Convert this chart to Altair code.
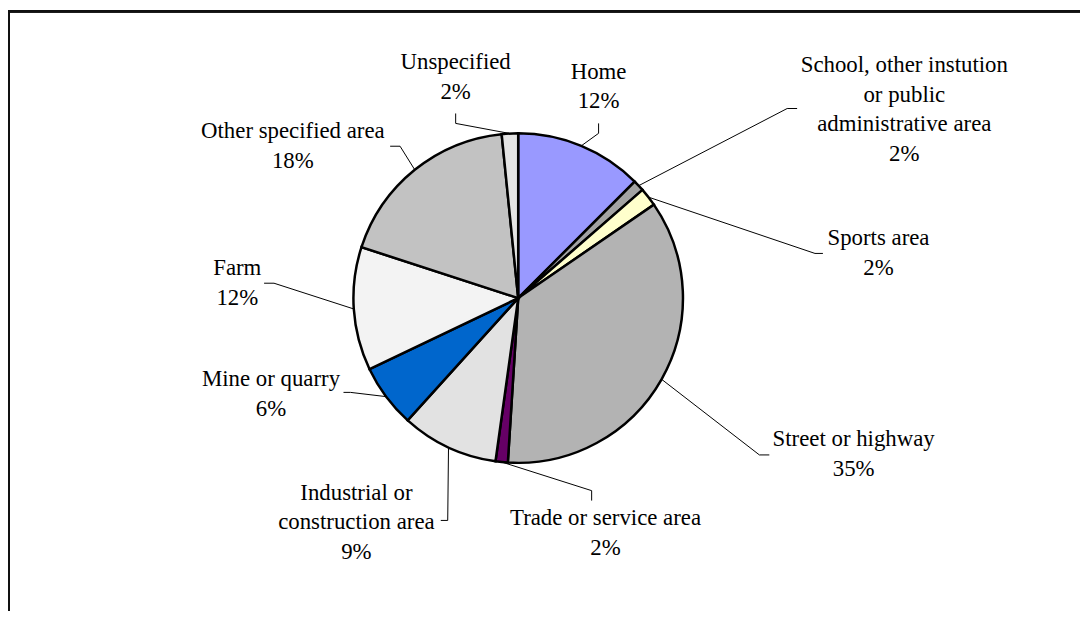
import altair as alt
import pandas as pd
import numpy as np

# ---- data (clockwise from 12 o'clock) ----
label_lines = [
    ["Home"],
    ["School, other instution", "or public", "administrative area"],
    ["Sports area"],
    ["Street or highway"],
    ["Trade or service area"],
    ["Industrial or", "construction area"],
    ["Mine or quarry"],
    ["Farm"],
    ["Other specified area"],
    ["Unspecified"],
]
shares = [12.5, 1.1, 1.8, 35.6, 1.2, 9.5, 6.2, 12.1, 18.4, 1.6]
pct_labels = ["12%", "2%", "2%", "35%", "2%", "9%", "6%", "12%", "18%", "2%"]

# ---- styles ----
colors = ["#9999FF", "#A3A3A3", "#FFFFCC", "#B3B3B3", "#660066",
          "#E2E2E2", "#0066CC", "#F3F3F3", "#C2C2C2", "#E4E4E4"]

# ---- layout (pixels relative to pie centre, y down) ----
W, H = 1080, 605
CX, CY = 514, 290
R = 166
# position of the first text line of each label
label_pos = [(81, -228), (389, -235), (363, -60), (338, 142), (88, 222),
             (-163, 196), (-249, 82), (-283, -30), (-227, -168), (-63, -238)]
elbows = [(81, -166), (271, -191), (299, -45), (243, 158), (74, 194),
          (-71, 224), (-169, 95), (-246, -15), (-119, -153), (-63, -176)]
ends = [(81, -176), (281, -191), (307, -45), (253, 158), (74, 204),
        (-78, 224), (-176, 95), (-256, -15), (-129, -153), (-63, -186)]

names = [" ".join(l) for l in label_lines]
pie_df = pd.DataFrame({"name": names, "share": shares, "idx": range(len(names)),
                       "color": colors})

total = sum(shares)
cum = np.cumsum([0] + shares)
mid = [(cum[i] + shares[i] / 2) / total * 2 * np.pi for i in range(len(shares))]

line_rows = []
for i, n in enumerate(names):
    ex, ey = R * np.sin(mid[i]), -R * np.cos(mid[i])
    pts = [(ex, ey), elbows[i], ends[i]]
    for k, (px, py) in enumerate(pts):
        line_rows.append({"name": n, "k": k, "x": px, "y": py})
line_df = pd.DataFrame(line_rows)

text_df = pd.DataFrame({
    "label": ["\n".join(l + [p]) for l, p in zip(label_lines, pct_labels)],
    "x": [p[0] for p in label_pos],
    "y": [p[1] for p in label_pos],
})

xs = alt.Scale(domain=[-CX, W - CX], nice=False, zero=False)
ys = alt.Scale(domain=[-CY, H - CY], nice=False, zero=False, reverse=True)

pie = alt.Chart(pie_df).mark_arc(outerRadius=R, stroke="black", strokeWidth=2.5).encode(
    theta=alt.Theta("share:Q", stack=True),
    order=alt.Order("idx:Q"),
    color=alt.Color("color:N", scale=None, legend=None),
    x=alt.X(datum=0, type="quantitative", scale=xs, axis=None),
    y=alt.Y(datum=0, type="quantitative", scale=ys, axis=None),
)

leaders = alt.Chart(line_df).mark_line(color="black", strokeWidth=1).encode(
    x=alt.X("x:Q", scale=xs, axis=None),
    y=alt.Y("y:Q", scale=ys, axis=None),
    detail="name:N",
    order="k:Q",
)

labels = alt.Chart(text_df).mark_text(
    font="Liberation Serif", fontSize=23, lineHeight=30, lineBreak="\n",
    align="center", baseline="middle", color="black",
).encode(
    x=alt.X("x:Q", scale=xs, axis=None),
    y=alt.Y("y:Q", scale=ys, axis=None),
    text="label:N",
)

top_border = alt.Chart(pie_df).mark_rule(color="#111", strokeWidth=2).encode(
    x=alt.value(0), x2=alt.value(W), y=alt.value(1)
)
left_border = alt.Chart(pie_df).mark_rule(color="#111", strokeWidth=2).encode(
    x=alt.value(1), y=alt.value(0), y2=alt.value(H)
)

chart = alt.layer(pie, leaders, labels, top_border, left_border).properties(
    width=W, height=H, padding=0, autosize=alt.AutoSizeParams(type="none"),
    background="white",
).configure_view(stroke=None)

chart.save("out.html", embed_options={"renderer": "svg", "actions": False})
